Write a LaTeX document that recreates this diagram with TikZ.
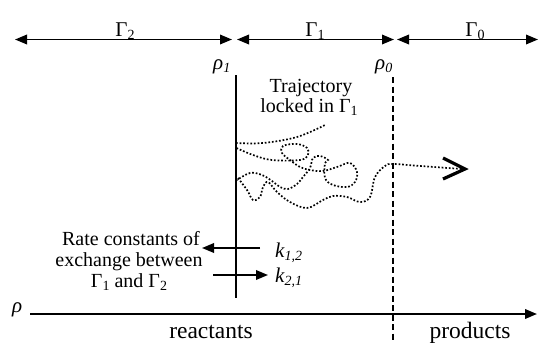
\documentclass[tikz,border=0pt]{standalone}
\usepackage{fontspec}
\setmainfont{LiberationSerif}[Extension=.ttf, UprightFont=*-Regular, ItalicFont=*-Italic, BoldFont=*-Bold]
\usetikzlibrary{arrows.meta}
\newcommand{\lowsub}[1]{\raisebox{-0.35ex}{\fontsize{14}{14}\selectfont #1}}
\begin{document}
\begin{tikzpicture}[x=1pt,y=-1pt,
  lbl/.style={inner sep=0pt, anchor=base, font=\rmfamily\fontsize{20}{21}\selectfont},
  biglbl/.style={inner sep=0pt, anchor=base, font=\rmfamily\fontsize{23.5}{24}\selectfont},
  greek/.style={inner sep=0pt, anchor=base west, font=\rmfamily\fontsize{21}{21}\selectfont\itshape},
  dblarrow/.style={line width=1.8pt, {Triangle[length=12pt,width=9.5pt]}-{Triangle[length=12pt,width=9.5pt]}},
  onearrow/.style={line width=1.8pt, -{Triangle[length=12pt,width=9.5pt]}},
  traj/.style={line width=1.7pt, dash pattern=on 1.7pt off 1.9pt}]
\useasboundingbox (0,0) rectangle (539,343);
% region arrows
\coordinate (a2l) at (15,39.5);
\coordinate (a2r) at (232,39.5);
\coordinate (a1l) at (237,39.5);
\coordinate (a1r) at (394,39.5);
\coordinate (a0l) at (397,39.5);
\coordinate (a0r) at (538,39.5);
\draw[dblarrow] (a2l) -- (a2r);
\draw[dblarrow] (a1l) -- (a1r);
\draw[dblarrow] (a0l) -- (a0r);
\node[lbl, font=\rmfamily\fontsize{21}{21}\selectfont] (g2) at (125,36) {Γ\lowsub{2}};
\node[lbl, font=\rmfamily\fontsize{21}{21}\selectfont] (g1) at (315,36) {Γ\lowsub{1}};
\node[lbl, font=\rmfamily\fontsize{21}{21}\selectfont] (g0) at (475,36) {Γ\lowsub{0}};
\node[greek] (r1) at (213,69) {ρ\lowsub{1}};
\node[greek] (r0) at (375,69) {ρ\lowsub{0}};
% boundaries
\coordinate (v1t) at (236,75);
\coordinate (v1b) at (236,298);
\coordinate (v0t) at (393,77);
\coordinate (v0b) at (393,343);
\draw[line width=1.6pt] (v1t) -- (v1b);
\draw[line width=1.9pt, dash pattern=on 6pt off 3.5pt] (v0t) -- (v0b);
% trajectory text
\node[lbl] (t1) at (311,92) {Trajectory};
\node[lbl] (t2) at (309,112) {locked in Γ\lowsub{1}};
% trajectories
\draw[traj] plot[smooth, tension=0.6] coordinates {(236,143) (263,143) (297,137) (325,125)};
\draw[traj] plot[smooth, tension=0.6] coordinates {(236.5,148) (253,155) (272,160) (300,160) (308,155) (307,148) (297,144) (283,146) (282,153) (290,160) (300,167) (310,170) (323,171) (337,167) (350,163) (357,172) (355,182) (347,187) (333,185) (325,178) (325,163) (328,160) (320,156) (313,158) (310,168) (303,177) (297,184) (288,189) (280,187) (272,181) (262,175) (250,173) (237,180)};
\draw[traj] plot[smooth, tension=0.6] coordinates {(238,178) (247,190) (253,200) (260,197) (263,187) (268,182) (277,192) (290,202) (307,208) (323,200) (333,196) (347,197) (360,202) (370,197) (375,177) (385,166) (393,164) (420,166) (462,169)};
\coordinate (chv1) at (443,158);
\coordinate (chvtip) at (465,169);
\coordinate (chv2) at (443,179);
\draw[line width=3.2pt, miter limit=10] (chv1) -- (chvtip) -- (chv2);
% rate constants
\node[lbl] (rc1) at (131,245) {Rate constants of};
\node[lbl] (rc2) at (129,266) {exchange between};
\node[lbl] (rc3) at (129,287) {Γ\lowsub{1} and Γ\lowsub{2}};
\coordinate (k12s) at (260,248);
\coordinate (k12e) at (202,248);
\coordinate (k21s) at (213,275);
\coordinate (k21e) at (268,275);
\draw[onearrow] (k12s) -- (k12e);
\draw[onearrow] (k21s) -- (k21e);
\node[greek] (k12) at (275,257) {k\lowsub{1,2}};
\node[greek] (k21) at (275,282) {k\lowsub{2,1}};
% reaction coordinate axis
\node[greek] (rho) at (12,312) {ρ};
\coordinate (axs) at (30,314);
\coordinate (axe) at (537,314);
\draw[onearrow, line width=2pt] (axs) -- (axe);
\node[biglbl] (reac) at (211,338) {reactants};
\node[biglbl] (prod) at (470,338) {products};
\end{tikzpicture}
\end{document}
